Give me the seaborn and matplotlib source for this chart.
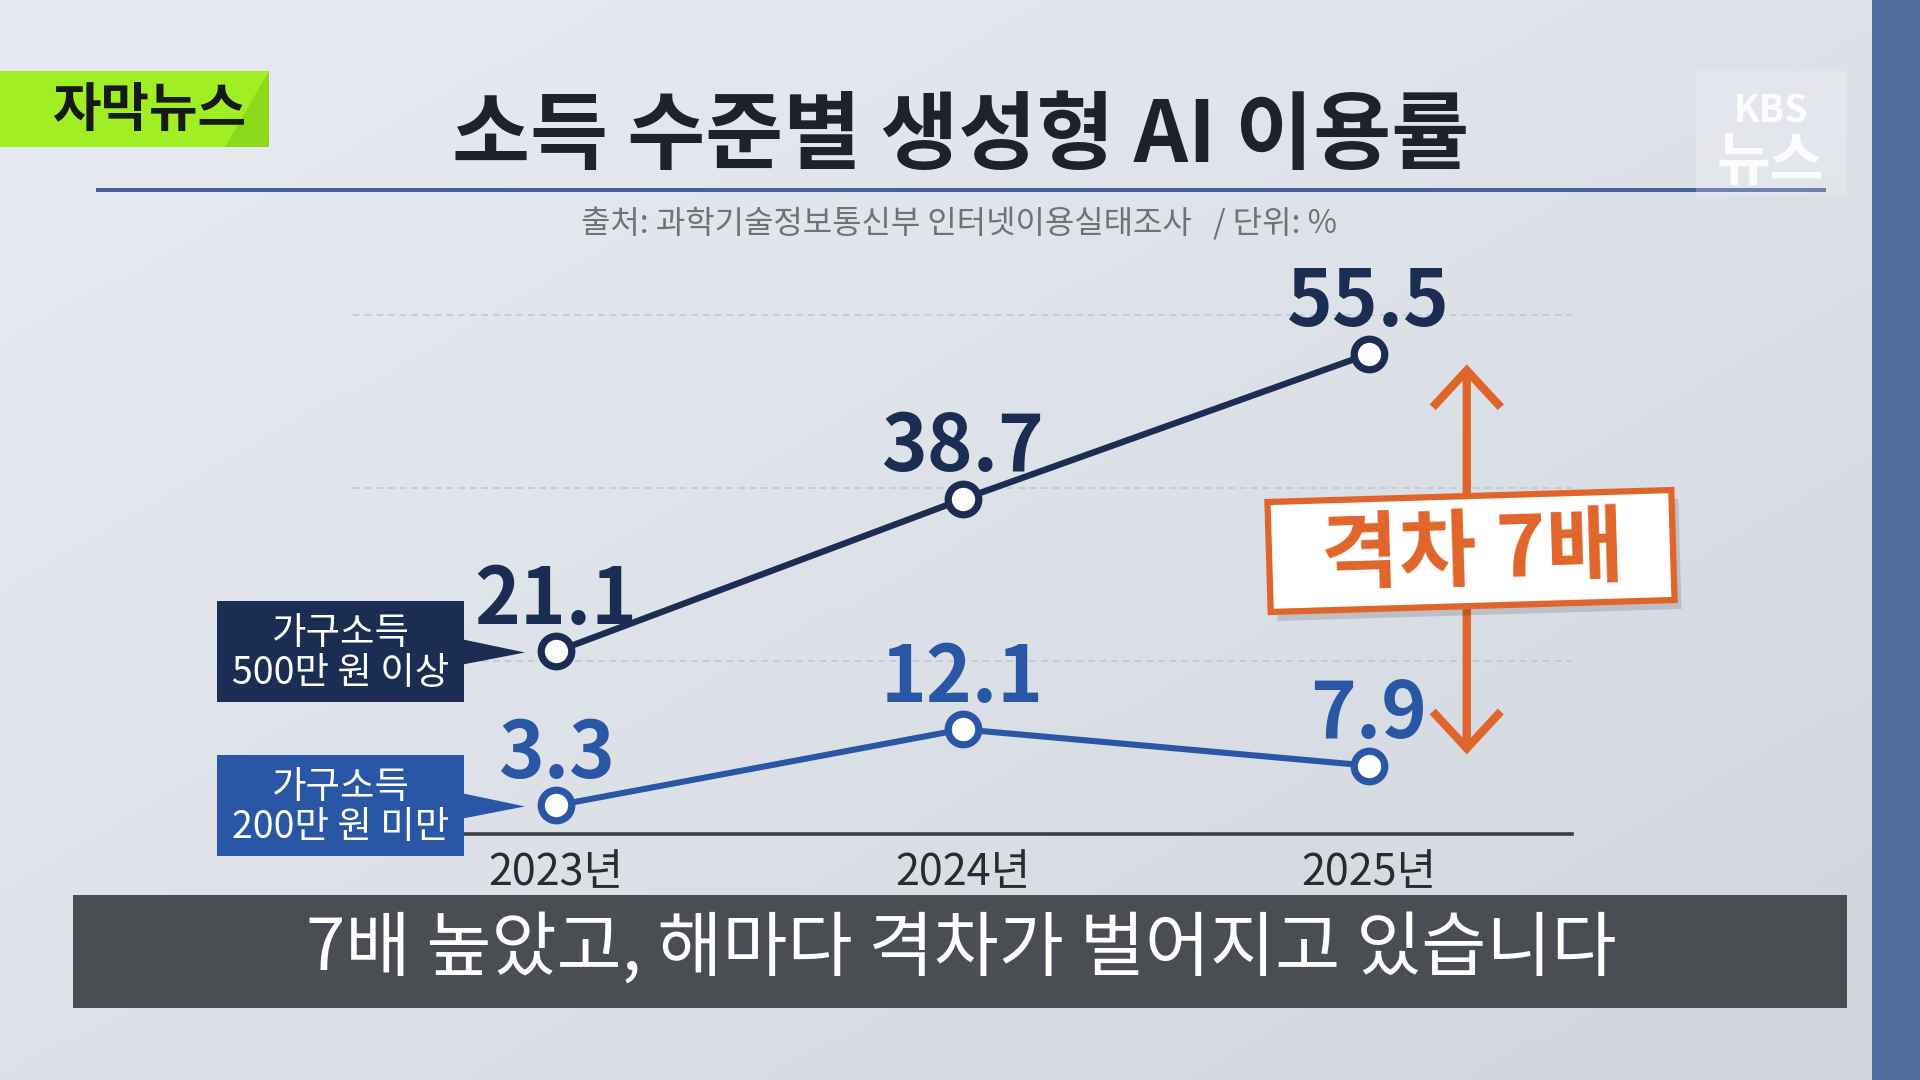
import numpy as np
import pandas as pd
import matplotlib
matplotlib.use("Agg")
import matplotlib.pyplot as plt
import seaborn as sns
from matplotlib.patches import Rectangle, Polygon

# ---------------- data ----------------
years = [2023, 2024, 2025]
year_labels = ["2023년", "2024년", "2025년"]
high_income = [21.1, 38.7, 55.5]
low_income = [3.3, 12.1, 7.9]
series_names = ["가구소득\n500만 원 이상", "가구소득\n200만 원 미만"]
grid_values = [20, 40, 60]
title = "소득 수준별 생성형 AI 이용률"
source = "출처: 과학기술정보통신부 인터넷이용실태조사   / 단위: %"
caption = "7배 높았고, 해마다 격차가 벌어지고 있습니다"
badge = "자막뉴스"
gap_label = "격차 7배"
logo_top, logo_bottom = "KBS", "뉴스"

NAVY = "#1B2D52"
BLUE = "#2A56A6"
ORANGE = "#E0652A"

sns.set_theme(style="white")
plt.rcParams['font.family'] = ['Noto Sans CJK KR', 'DejaVu Sans']

W, H = 1920, 1080
fig = plt.figure(figsize=(W / 100, H / 100), dpi=100)
IN = fig.dpi_scale_trans


def P(x, y):
    """pixel (top-left origin) -> inches (bottom-left origin)"""
    return (x / 100, (H - y) / 100)


# ---------------- background ----------------
bg = fig.add_axes([0, 0, 1, 1], zorder=-10)
gx = np.linspace(0, 1, 240)
gy = np.linspace(0, 1, 140)
X, Y = np.meshgrid(gx, gy)
t = np.clip(0.5 * X + 0.5 * Y, 0, 1) ** 1.3
c0 = np.array([0.905, 0.918, 0.945])
c1 = np.array([0.815, 0.83, 0.86])
img = c0 + (c1 - c0) * t[..., None]
bg.imshow(img, aspect='auto', extent=[0, 1, 0, 1], origin='upper')
bg.axis('off')

# right blue band
fig.patches.append(Rectangle(P(1872, 1080), 48 / 100, 10.8, transform=IN,
                             fc="#4F6E9F", ec="none", zorder=0.5))

# ---------------- main axes ----------------
ax = fig.add_axes([353 / W, (H - 834) / H, (1572 - 353) / W, (834 - 315) / H])
ax.set_facecolor('none')

sns.lineplot(x=years, y=high_income, ax=ax, color=NAVY, linewidth=4.6,
             marker='o', markersize=22, markerfacecolor='white',
             markeredgecolor=NAVY, markeredgewidth=5.2, clip_on=False, zorder=5)
sns.lineplot(x=years, y=low_income, ax=ax, color=BLUE, linewidth=4.4,
             marker='o', markersize=22, markerfacecolor='white',
             markeredgecolor=BLUE, markeredgewidth=5.2, clip_on=False, zorder=5)

ax.set_xlim(2022.5, 2025.5)
ax.set_ylim(0, 60)
ax.set_yticks(grid_values)
ax.yaxis.grid(True, linestyle=(0, (4, 3)), color='#C3C8D0', linewidth=1.2)
ax.xaxis.grid(False)
for g in ax.get_ygridlines():
    g.set_clip_on(False)
ax.set_xticks(years)
ax.set_xticklabels(year_labels, fontsize=31, color='#2B2B2B')
ax.tick_params(axis='x', length=0, pad=12)
ax.tick_params(axis='y', length=0, labelleft=False)
for s in ['left', 'right', 'top']:
    ax.spines[s].set_visible(False)
ax.spines['bottom'].set_color('#3C3F45')
ax.spines['bottom'].set_linewidth(2.6)
ax.set_xlabel("")
ax.set_ylabel("")

for series, col in [(high_income, NAVY), (low_income, BLUE)]:
    for x, v in zip(years, series):
        ax.annotate(f"{v}", (x, v), xytext=(0, 20), textcoords='offset points',
                    ha='center', va='baseline', fontsize=56, fontweight='bold',
                    color=col, annotation_clip=False, zorder=6)

# gap arrow
gap_x = 2025.241
ax.annotate('', xy=(gap_x, high_income[-1] - 1.2), xytext=(gap_x, low_income[-1] + 1.3),
            arrowprops=dict(arrowstyle='<->,head_length=0.53,head_width=0.49',
                            lw=6.0, color=ORANGE, mutation_scale=50,
                            shrinkA=0, shrinkB=0, capstyle='butt', joinstyle='miter'),
            annotation_clip=False)

# ---------------- series callouts ----------------
def to_in(x, y):
    d = ax.transData.transform((x, y))
    return d / fig.dpi

for name, series, col in [(series_names[0], high_income, NAVY),
                          (series_names[1], low_income, BLUE)]:
    cx, cy = to_in(years[0], series[0])
    left, right = 217 / 100, 464 / 100
    h = 101 / 100
    fig.patches.append(Rectangle((left, cy - h / 2), right - left, h, transform=IN,
                                 fc=col, ec='none', zorder=2))
    fig.patches.append(Polygon([(right - 0.01, cy + 0.12), (right - 0.01, cy - 0.13),
                                (5.25, cy - 0.01)], closed=True, transform=IN,
                               fc=col, ec='none', zorder=2))
    fig.text((left + right) / 2, cy - 0.02, name, transform=IN, ha='center', va='center',
             fontsize=27, color='white', linespacing=1.05, zorder=3)

# ---------------- gap label box ----------------
bw, bh = 4.04, 1.10
bcx, bcy = P(1471, 551)
fig.patches.append(Rectangle((bcx - bw / 2 + 0.07, bcy - bh / 2 - 0.09), bw, bh, angle=1.7,
                             rotation_point='center', transform=IN,
                             fc='black', alpha=0.13, ec='none', zorder=2))
fig.patches.append(Rectangle((bcx - bw / 2, bcy - bh / 2), bw, bh, angle=1.7,
                             rotation_point='center', transform=IN,
                             fc='white', ec=ORANGE, lw=4.5, zorder=2.1))
fig.text(bcx + 0.02, bcy - 0.02, gap_label, transform=IN, ha='center', va='center',
         rotation=1.7, rotation_mode='anchor', fontsize=61, fontweight='black',
         color=ORANGE, zorder=3)

# ---------------- header ----------------
fig.patches.append(Rectangle(P(0, 147), 2.69, 0.76, transform=IN,
                             fc='#A2EE24', ec='none', zorder=1))
fig.patches.append(Polygon([P(269, 71), P(269, 147), P(225, 147)], closed=True,
                           transform=IN, fc='#8CD81A', ec='none', zorder=1.1))
fig.text(*P(150, 110), badge, transform=IN, ha='center', va='center',
         fontsize=38, fontweight='black', color='#161A12', zorder=3)

fig.text(*P(961, 137), title, transform=IN, ha='center', va='center',
         fontsize=61, fontweight='black', color='#1F2229', zorder=3)

fig.patches.append(Rectangle(P(96, 192), (1826 - 96) / 100, 0.04, transform=IN,
                             fc='#45609A', ec='none', zorder=1))

fig.text(*P(959, 224), source, transform=IN, ha='center', va='center',
         fontsize=23, color='#707276', zorder=3)

# KBS logo
fig.patches.append(Rectangle(P(1696, 196), 1.51, 1.25, transform=IN,
                             fc='white', alpha=0.22, ec='none', zorder=1.5))
fig.text(*P(1771, 111), logo_top, transform=IN, ha='center', va='center',
         fontsize=27, fontweight='bold', color='white', alpha=0.9, zorder=3)
fig.text(*P(1770, 163), logo_bottom, transform=IN, ha='center', va='center',
         fontsize=42, fontweight='black', color='white', alpha=0.9, zorder=3)

# ---------------- caption bar ----------------
fig.patches.append(Rectangle(P(73, 1008), (1847 - 73) / 100, (1008 - 895) / 100,
                             transform=IN, fc='#4A4D52', ec='none', zorder=4))
fig.text(*P(961, 950), caption, transform=IN, ha='center', va='center',
         fontsize=51, color='white', zorder=5)

fig.savefig("out.png", dpi=100)
